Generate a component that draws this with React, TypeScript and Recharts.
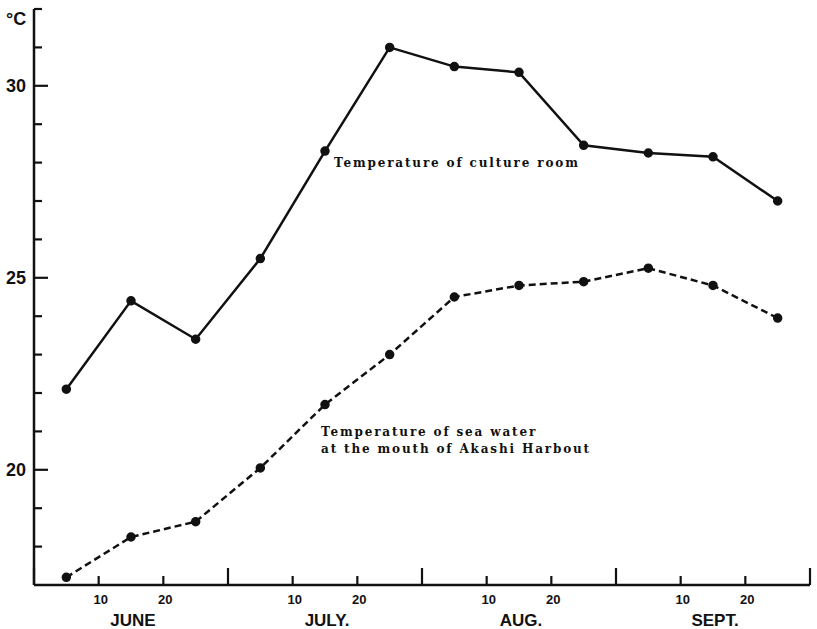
import React from 'react';
import { LineChart, Line, XAxis, YAxis } from 'recharts';

// months drawn as equal thirds; readings are 10-day means plotted at day 5, 15, 25
const months = ['JUNE', 'JULY.', 'AUG.', 'SEPT.'];
const sampleDays = [5, 15, 25];
const cultureRoom = [22.1, 24.4, 23.4, 25.5, 28.3, 31.0, 30.5, 30.35, 28.45, 28.25, 28.15, 27.0];
const seaWater = [17.2, 18.25, 18.65, 20.05, 21.7, 23.0, 24.5, 24.8, 24.9, 25.25, 24.8, 23.95];
const yTicks = [18, 19, 20, 21, 22, 23, 24, 25, 26, 27, 28, 29, 30, 31, 32];
const yLabelled = [20, 25, 30];
const xTicks = [0, 10, 15, 20, 30, 40, 45, 50, 60, 70, 75, 80, 90, 100, 105, 110, 120];

const data = months.flatMap((m, mi) =>
  sampleDays.map((d, di) => {
    const i = mi * sampleDays.length + di;
    return { x: mi * 30 + d, culture: cultureRoom[i], sea: seaWater[i] };
  })
);

const INK = '#111';
const sans = 'Liberation Sans, Arial, sans-serif';

function YTick(props: any) {
  const { x, y, payload } = props;
  const v = payload.value;
  const major = yLabelled.includes(v);
  return (
    <g>
      <line x1={x} x2={x + (major ? 14 : 8)} y1={y} y2={y} stroke={INK} strokeWidth={2.2} />
      {major && (
        <text x={x - 8} y={y} textAnchor="end" dominantBaseline="central"
          style={{ fontFamily: sans, fontSize: 18, fontWeight: 700, fill: INK }}>
          {v}
        </text>
      )}
    </g>
  );
}

function XTick(props: any) {
  const { x, y, payload } = props;
  const v = payload.value;
  const r = v % 30;
  if (r === 15) {
    return (
      <text x={x + 2} y={y + 35} textAnchor="middle" dominantBaseline="central"
        style={{ fontFamily: sans, fontSize: 17, fontWeight: 700, fill: INK }}>
        {months[Math.floor(v / 30)]}
      </text>
    );
  }
  if (r === 0) {
    return <line x1={x} x2={x} y1={y} y2={y - 17} stroke={INK} strokeWidth={2.2} />;
  }
  return (
    <g>
      <line x1={x} x2={x} y1={y} y2={y - 9} stroke={INK} strokeWidth={2.2} />
      <text x={x + 2} y={y + 14} textAnchor="middle" dominantBaseline="central"
        style={{ fontFamily: sans, fontSize: 13, fontWeight: 700, fill: INK }}>
        {r}
      </text>
    </g>
  );
}

const noteStyle: React.CSSProperties = {
  fontFamily: 'DejaVu Serif, serif',
  fontSize: 12,
  fontWeight: 700,
  letterSpacing: 1.85,
  fill: INK,
};

export default function App() {
  return (
    <div style={{ position: 'absolute', left: 0, top: 0, width: 817, height: 629, background: '#fff' }}>
      <LineChart width={817} height={629} data={data} margin={{ top: 9, right: 7, left: 0, bottom: 0 }}>
        <XAxis type="number" dataKey="x" domain={[0, 120]} ticks={xTicks} interval={0}
          height={44} tickSize={0} tickMargin={0} tickLine={false}
          axisLine={{ stroke: INK, strokeWidth: 2.5 }} tick={<XTick />} />
        <YAxis type="number" domain={[17, 32]} ticks={yTicks} interval={0}
          width={34} tickSize={0} tickMargin={0} tickLine={false}
          axisLine={{ stroke: INK, strokeWidth: 2.5 }} tick={<YTick />} />
        <Line type="linear" dataKey="culture" stroke={INK} strokeWidth={2.5}
          dot={{ r: 3.5, fill: INK, stroke: INK }} isAnimationActive={false} />
        <Line type="linear" dataKey="sea" stroke={INK} strokeWidth={2.5} strokeDasharray="7 4"
          dot={{ r: 3.5, fill: INK, stroke: INK, strokeDasharray: '' }} isAnimationActive={false} />
      </LineChart>
      <svg width={817} height={629} style={{ position: 'absolute', left: 0, top: 0, pointerEvents: 'none' }}>
        <text x={6} y={25} style={{ fontFamily: sans, fontSize: 18, fontWeight: 700, fill: INK }}>°C</text>
        <text x={334} y={167} style={noteStyle}>Temperature of culture room</text>
        <text x={321} y={436} style={noteStyle}>Temperature of sea water</text>
        <text x={321} y={453} style={noteStyle}>at the mouth of Akashi Harbout</text>
      </svg>
    </div>
  );
}
